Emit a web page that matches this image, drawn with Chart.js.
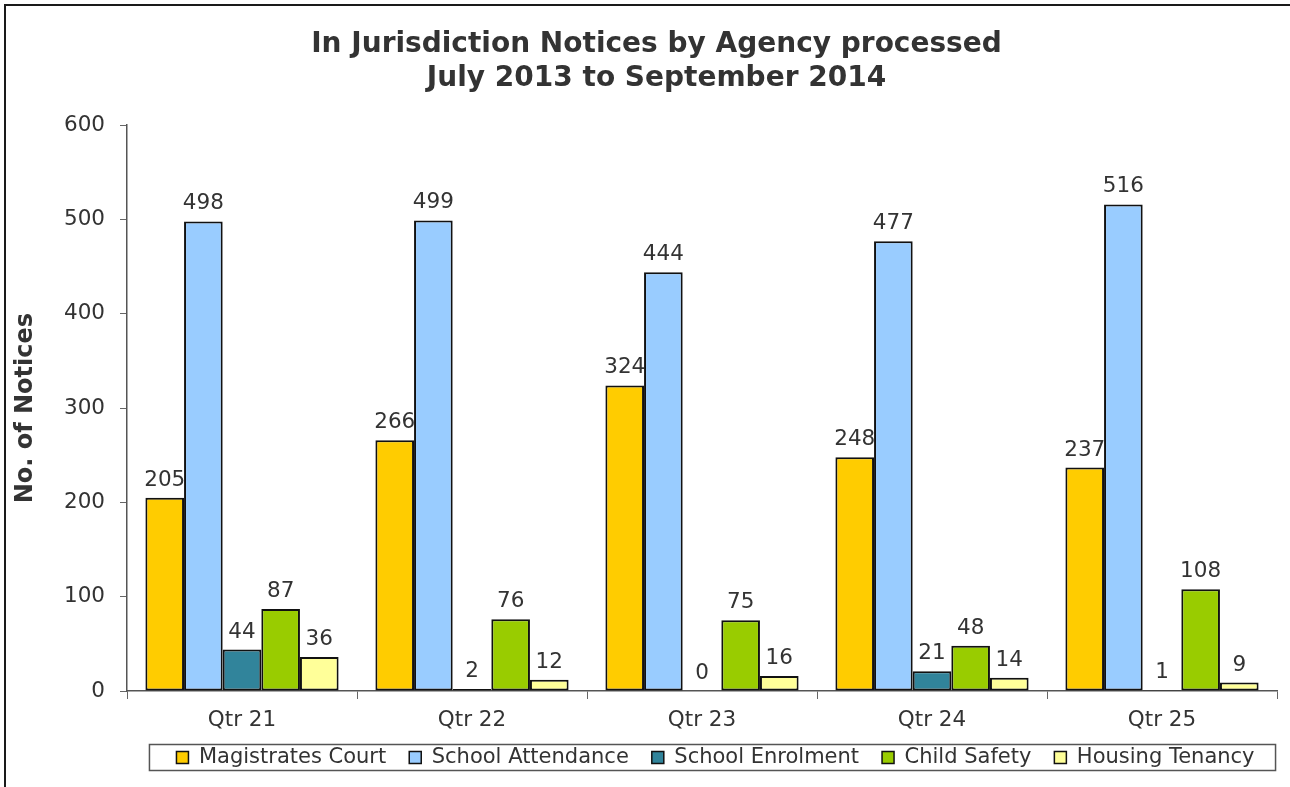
<!DOCTYPE html>
<html>
<head>
<meta charset="utf-8">
<script src="https://cdn.jsdelivr.net/npm/chart.js@4.4.1/dist/chart.umd.min.js"></script>
<style>
  html, body { margin: 0; padding: 0; background: #fff; }
  #wrap { position: relative; width: 1290px; height: 787px; }
</style>
</head>
<body>
<div id="wrap"><canvas id="c" width="1290" height="787"></canvas></div>
<script>
const categories = ['Qtr 21', 'Qtr 22', 'Qtr 23', 'Qtr 24', 'Qtr 25'];
const magistratesCourt = [205, 266, 324, 248, 237];
const schoolAttendance = [498, 499, 444, 477, 516];
const schoolEnrolment = [44, 2, 0, 21, 1];
const childSafety = [87, 76, 75, 48, 108];
const housingTenancy = [36, 12, 16, 14, 9];
const seriesNames = ['Magistrates Court', 'School Attendance', 'School Enrolment', 'Child Safety', 'Housing Tenancy'];
const seriesColors = ['#FFCC00', '#99CCFF', '#31849B', '#99CC00', '#FFFF99'];
const titleLines = ['In Jurisdiction Notices by Agency processed', 'July 2013 to September 2014'];
const yTitle = 'No. of Notices';

const FONT = "'DejaVu Sans', Verdana, sans-serif";
const TEXT = '#333333';
const TITLE_SHIFT = 18;
const LEGEND_SHIFT_X = 77;
const LEGEND_SHIFT_Y = -9;

const valueLabels = {
  id: 'valueLabels',
  afterDatasetsDraw(chart) {
    const ctx = chart.ctx;
    ctx.save();
    ctx.font = '21.5px ' + FONT;
    ctx.fillStyle = TEXT;
    ctx.textAlign = 'center';
    ctx.textBaseline = 'alphabetic';
    chart.data.datasets.forEach((ds, i) => {
      const meta = chart.getDatasetMeta(i);
      meta.data.forEach((bar, j) => {
        ctx.fillText(String(ds.data[j]), bar.x, bar.y - 12);
      });
    });
    ctx.restore();
  }
};

const shifter = {
  id: 'shifter',
  afterLayout(chart) {
    if (chart.titleBlock) { chart.titleBlock.left += TITLE_SHIFT; chart.titleBlock.right += TITLE_SHIFT; }
    if (chart.legend) {
      chart.legend.left += LEGEND_SHIFT_X; chart.legend.right += LEGEND_SHIFT_X;
      chart.legend.top += LEGEND_SHIFT_Y; chart.legend.bottom += LEGEND_SHIFT_Y;
    }
  }
};

const frame = {
  id: 'frame',
  afterDraw(chart) {
    const ctx = chart.ctx;
    ctx.save();
    ctx.strokeStyle = '#1a1a1a';
    ctx.lineWidth = 2;
    ctx.strokeRect(5, 5, 1400, 900);
    const lg = chart.legend;
    if (lg && lg.legendHitBoxes && lg.legendHitBoxes.length) {
      const hb = lg.legendHitBoxes;
      const l = Math.min(...hb.map(h => h.left)) - 27;
      const r = Math.max(...hb.map(h => h.left + h.width)) + 21;
      const cy = hb[0].top + hb[0].height / 2;
      ctx.strokeStyle = '#555555';
      ctx.lineWidth = 1.5;
      ctx.strokeRect(l, cy - 13, r - l, 26);
    }
    ctx.restore();
  }
};

const datasets = [magistratesCourt, schoolAttendance, schoolEnrolment, childSafety, housingTenancy].map((d, i) => ({
  label: seriesNames[i],
  data: d,
  backgroundColor: seriesColors[i],
  borderColor: '#111111',
  borderWidth: 2,
  borderSkipped: false,
  categoryPercentage: 0.84,
  barPercentage: 1.0
}));

new Chart(document.getElementById('c'), {
  type: 'bar',
  data: { labels: categories, datasets },
  options: {
    responsive: false,
    animation: false,
    devicePixelRatio: 1,
    layout: { padding: { left: 0, right: 13, top: 0, bottom: 0 } },
    plugins: {
      title: {
        display: true,
        text: titleLines,
        color: TEXT,
        font: { family: FONT, size: 28, weight: 'bold', lineHeight: 1.2 },
        padding: { top: 28, bottom: 30 }
      },
      legend: {
        position: 'bottom',
        labels: {
          color: TEXT,
          font: { family: FONT, size: 21 },
          boxWidth: 12,
          boxHeight: 12,
          padding: 23,
          generateLabels(chart) {
            return chart.data.datasets.map((ds, i) => ({
              text: ds.label,
              fillStyle: ds.backgroundColor,
              strokeStyle: '#111111',
              lineWidth: 1.5,
              datasetIndex: i,
              fontColor: TEXT,
              hidden: false
            }));
          }
        }
      },
      tooltip: { enabled: false }
    },
    scales: {
      x: {
        grid: { display: true, drawOnChartArea: false, offset: true, tickLength: 8, color: '#666666' },
        border: { display: true, color: '#555555', width: 1.5 },
        ticks: { color: TEXT, font: { family: FONT, size: 21.5 }, padding: 9 },
        afterFit(scale) { scale.height = 42; }
      },
      y: {
        min: 0,
        max: 600,
        ticks: { stepSize: 100, color: TEXT, font: { family: FONT, size: 21.5 }, padding: 15 },
        grid: { display: true, drawOnChartArea: false, tickLength: 7, color: '#666666' },
        border: { display: true, color: '#555555', width: 1.5 },
        title: {
          display: true,
          text: yTitle,
          color: TEXT,
          font: { family: FONT, size: 24, weight: 'bold' },
          padding: { top: 11, bottom: 0 }
        },
        afterFit(scale) { scale.width = 127; }
      }
    }
  },
  plugins: [shifter, valueLabels, frame]
});
</script>
</body>
</html>
